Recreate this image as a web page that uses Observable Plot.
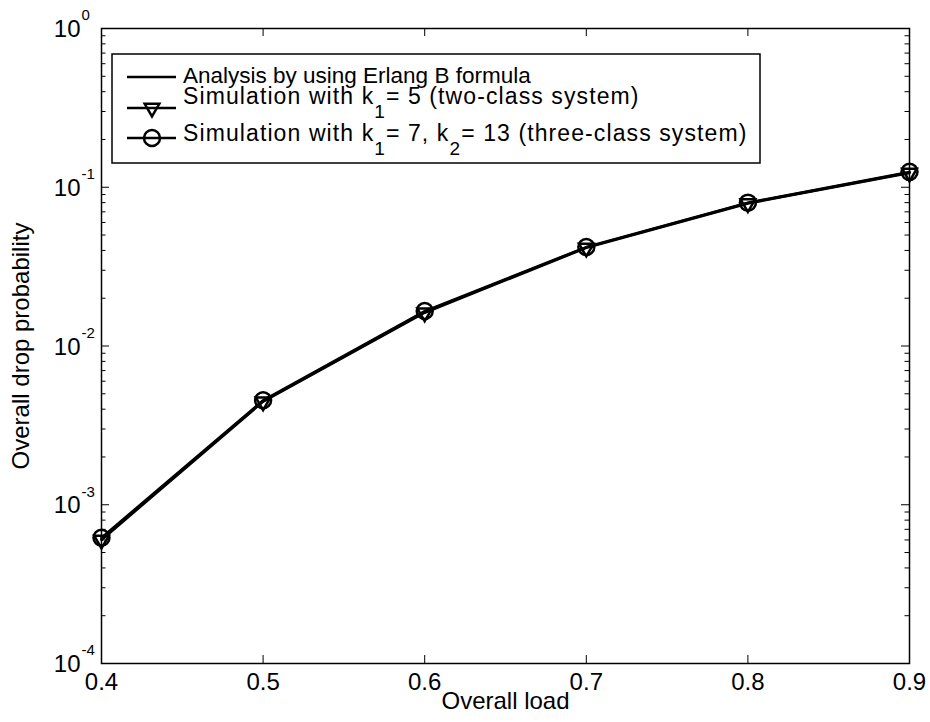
<!DOCTYPE html>
<html><head><meta charset="utf-8">
<script src="https://cdn.jsdelivr.net/npm/d3@7"></script>
<script src="https://cdn.jsdelivr.net/npm/@observablehq/plot@0.6"></script>
<style>html,body{margin:0;padding:0;background:#fff;} #chart svg{display:block;}</style>
</head><body><div id="chart"></div>
<script>
// ---- data ----
const loads = [0.4, 0.5, 0.6, 0.7, 0.8, 0.9];
const analysis = [6.1e-4, 4.5e-3, 1.64e-2, 4.18e-2, 7.95e-2, 1.24e-1];
const simTwoClass = [6.0e-4, 4.46e-3, 1.62e-2, 4.15e-2, 7.9e-2, 1.23e-1];
const simThreeClass = [6.2e-4, 4.55e-3, 1.66e-2, 4.2e-2, 8.0e-2, 1.25e-1];
const xTicks = [0.4, 0.5, 0.6, 0.7, 0.8, 0.9];
const xTickLabels = ["0.4", "0.5", "0.6", "0.7", "0.8", "0.9"];
const yTicks = [1e-4, 1e-3, 1e-2, 1e-1, 1];
const yTickExp = ["-4", "-3", "-2", "-1", "0"];
const xTitle = "Overall load";
const yTitle = "Overall drop probability";
const legendItems = [
  {parts: [["Analysis by using Erlang B formula", false]], marker: null},
  {parts: [["Simulation with k", false], ["1", true], ["= 5 (two-class system)", false]], marker: "triangle"},
  {parts: [["Simulation with k", false], ["1", true], ["= 7, k", false], ["2", true], ["= 13 (three-class system)", false]], marker: "circle"}
];

const minorY = [];
for (let e = -4; e < 0; e++) for (let m = 2; m <= 9; m++) minorY.push(m * Math.pow(10, e));

const rows = (ys) => loads.map((x, i) => ({x, y: ys[i]}));
const dA = rows(analysis), d2 = rows(simTwoClass), d3s = rows(simThreeClass);

const W = 930, H = 722, mL = 101, mR = 21, mT = 28, mB = 59;
const iw = W - mL - mR, ih = H - mT - mB;
const font = "'Liberation Sans', Arial, Helvetica, sans-serif";

const triangleDown = {
  draw(context, size) {
    const s = Math.sqrt(size) * 0.6824, t = s / 2, u = s * Math.sqrt(3) / 2;
    context.moveTo(0, s); context.lineTo(u, -t); context.lineTo(-u, -t); context.closePath();
  }
};

const majorLen = 8, minorLen = 4.5;
const chart = Plot.plot({
  width: W, height: H,
  marginLeft: mL, marginRight: mR, marginTop: mT, marginBottom: mB,
  style: {fontFamily: font, background: "white", color: "black", overflow: "visible"},
  x: {domain: [0.4, 0.9], axis: null},
  y: {type: "log", domain: [1e-4, 1], axis: null},
  marks: [
    // ticks (inward, all four sides)
    Plot.tickY(yTicks, {y: d => d, stroke: "black", strokeWidth: 1, insetRight: iw - majorLen}),
    Plot.tickY(yTicks, {y: d => d, stroke: "black", strokeWidth: 1, insetLeft: iw - majorLen}),
    Plot.tickY(minorY, {y: d => d, stroke: "black", strokeWidth: 1, insetRight: iw - minorLen}),
    Plot.tickY(minorY, {y: d => d, stroke: "black", strokeWidth: 1, insetLeft: iw - minorLen}),
    Plot.tickX(xTicks, {x: d => d, stroke: "black", strokeWidth: 1, insetTop: ih - majorLen}),
    Plot.tickX(xTicks, {x: d => d, stroke: "black", strokeWidth: 1, insetBottom: ih - majorLen}),
    Plot.frame({stroke: "black", strokeWidth: 1.5}),
    // tick labels
    Plot.text(xTicks, {x: d => d, frameAnchor: "bottom", lineAnchor: "middle", textAnchor: "middle", dy: 19, text: (d, i) => xTickLabels[i], fontSize: 24, fill: "black"}),
    Plot.text(yTicks, {y: d => d, frameAnchor: "left", lineAnchor: "middle", dx: -21, dy: 1, textAnchor: "end", text: () => "10", fontSize: 24, fill: "black"}),
    Plot.text(yTicks, {y: d => d, frameAnchor: "left", lineAnchor: "middle", dx: -20, dy: -13, textAnchor: "start", text: (d, i) => yTickExp[i], fontSize: 15, fill: "black"}),
    // titles
    Plot.text([xTitle], {frameAnchor: "bottom", lineAnchor: "middle", textAnchor: "middle", dy: 38, text: d => d, fontSize: 24, fill: "black"}),
    Plot.text([yTitle], {frameAnchor: "left", lineAnchor: "middle", textAnchor: "middle", dx: -80, rotate: -90, text: d => d, fontSize: 24, fill: "black"}),
    // data
    Plot.line(dA, {x: "x", y: "y", stroke: "black", strokeWidth: 2.5}),
    Plot.line(d2, {x: "x", y: "y", stroke: "black", strokeWidth: 2.5}),
    Plot.line(d3s, {x: "x", y: "y", stroke: "black", strokeWidth: 2.5}),
    Plot.dot(d2, {x: "x", y: "y", symbol: triangleDown, r: 7, stroke: "black", strokeWidth: 2.5, fill: "none"}),
    Plot.dot(d3s, {x: "x", y: "y", symbol: "circle", r: 8, stroke: "black", strokeWidth: 2.5, fill: "none"})
  ]
});
document.getElementById("chart").appendChild(chart);

// ---- legend ----
const svg = d3.select(chart);
const lg = svg.append("g").attr("font-family", font).attr("fill", "black").attr("text-anchor", "start");
lg.append("rect").attr("x", 112).attr("y", 54).attr("width", 648).attr("height", 109)
  .attr("fill", "white").attr("stroke", "black").attr("stroke-width", 1.5);
const sampleY = [77, 108, 138];
const textY = [83, 104, 141];
legendItems.forEach((item, i) => {
  lg.append("line").attr("x1", 127).attr("x2", 176).attr("y1", sampleY[i]).attr("y2", sampleY[i])
    .attr("stroke", "black").attr("stroke-width", 2.5);
  if (item.marker === "triangle") {
    lg.append("path").attr("d", d3.symbol(triangleDown, Math.PI * 49)())
      .attr("transform", `translate(152,${sampleY[i]})`).attr("fill", "none").attr("stroke", "black").attr("stroke-width", 2.5);
  } else if (item.marker === "circle") {
    lg.append("circle").attr("cx", 152).attr("cy", sampleY[i]).attr("r", 8)
      .attr("fill", "none").attr("stroke", "black").attr("stroke-width", 2.5);
  }
  const hasSub = item.parts.some(p => p[1]);
  const t = lg.append("text").attr("x", 183).attr("y", textY[i])
    .attr("font-size", hasSub ? 23 : 22.5).attr("text-anchor", "start")
    .attr("letter-spacing", hasSub ? 1.1 : 0);
  let shifted = false;
  item.parts.forEach(([s, sub]) => {
    const ts = t.append("tspan").text(s);
    if (sub && !shifted) { ts.attr("dy", 14).attr("font-size", 19); shifted = true; }
    else if (!sub && shifted) { ts.attr("dy", -14); shifted = false; }
    else if (sub) ts.attr("font-size", 19);
  });
});
</script>
</body></html>
